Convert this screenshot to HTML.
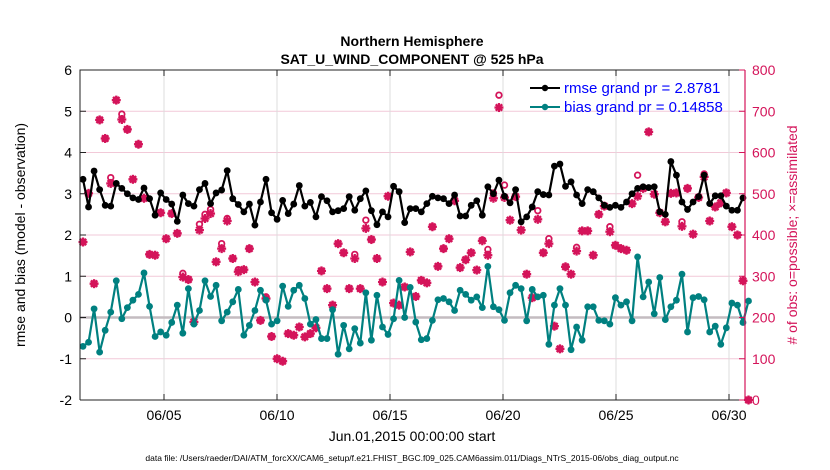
<!DOCTYPE html>
<html><head><meta charset="utf-8"><style>
body{margin:0;background:#fff;}
svg{display:block;font-family:"Liberation Sans",Arial,sans-serif;}
</style></head><body>
<svg id="chart" width="830" height="470" viewBox="0 0 830 470" xmlns="http://www.w3.org/2000/svg">
<rect x="0" y="0" width="830" height="470" fill="#fff"/>
<g id="grid"></g>
<g id="marks"></g>
<g id="axes"></g>
<text x="412" y="46" text-anchor="middle" font-size="14" font-weight="bold">Northern Hemisphere</text>
<text x="412" y="64" text-anchor="middle" font-size="14" font-weight="bold">SAT_U_WIND_COMPONENT @ 525 hPa</text>
<text x="412" y="441" text-anchor="middle" font-size="14">Jun.01,2015 00:00:00 start</text>
<text x="412" y="461" text-anchor="middle" font-size="8.5">data file: /Users/raeder/DAI/ATM_forcXX/CAM6_setup/f.e21.FHIST_BGC.f09_025.CAM6assim.011/Diags_NTrS_2015-06/obs_diag_output.nc</text>
<text transform="translate(25,235) rotate(-90)" text-anchor="middle" font-size="14">rmse and bias (model - observation)</text>
<text transform="translate(797,235) rotate(-90)" text-anchor="middle" font-size="14" fill="#d4145a"># of obs: o=possible; &#215;=assimilated</text>
<g>
<line x1="530" y1="88" x2="560" y2="88" stroke="#000" stroke-width="2"/>
<circle cx="545" cy="88" r="3.2" fill="#000"/>
<text x="564" y="93" font-size="15" fill="#0000ff">rmse grand pr = 2.8781</text>
<line x1="530" y1="107" x2="560" y2="107" stroke="#008080" stroke-width="2"/>
<circle cx="545" cy="107" r="3.2" fill="#008080"/>
<text x="564" y="112" font-size="15" fill="#0000ff">bias grand pr = 0.14858</text>
</g>
</svg>
<script>
const rmse=[3.35,2.68,3.55,3.1,2.72,2.7,3.25,3.13,3.0,2.9,2.86,3.14,2.88,2.48,3.02,2.86,2.75,2.33,2.97,2.76,2.7,3.1,3.25,2.76,3.02,3.09,3.56,2.88,2.74,2.56,
2.75,2.24,2.8,3.35,2.54,2.38,2.84,2.52,2.75,3.2,2.7,2.79,2.44,2.93,2.83,2.56,2.59,2.64,2.93,2.6,2.88,3.07,2.59,2.25,2.56,2.44,3.18,3.05,2.3,2.64,
2.64,2.56,2.76,2.94,2.9,2.88,2.76,2.97,2.46,2.46,2.72,2.83,2.48,3.17,3.0,3.33,2.94,2.78,3.1,2.32,2.44,2.68,3.05,2.98,2.97,3.67,3.72,3.18,3.29,2.97,
2.76,3.1,3.05,2.9,2.72,2.67,2.72,2.67,2.8,3.0,3.13,3.17,3.15,3.17,2.56,2.5,3.78,3.45,2.8,2.62,2.8,2.93,3.45,2.76,2.95,2.95,2.7,2.6,2.6,2.9];
const bias=[-0.7,-0.6,0.21,-0.84,-0.31,0.13,0.89,-0.03,0.24,0.42,0.56,1.08,0.27,-0.46,-0.35,-0.43,-0.12,0.3,-0.38,0.7,-0.16,0.17,0.89,0.51,0.78,-0.08,0.13,0.38,0.68,-0.43,
-0.19,0.17,0.66,0.42,-0.16,-0.08,0.76,0.27,0.66,0.78,0.46,-0.16,-0.05,-0.51,-0.51,0.19,-0.89,-0.19,-0.76,-0.27,-0.62,0.6,-0.55,0.54,-0.23,-0.41,-0.03,0.9,0.0,0.73,
-0.11,-0.54,-0.51,-0.07,0.43,0.46,0.38,0.17,0.66,0.56,0.42,0.5,0.24,1.24,0.26,0.19,-0.07,0.6,0.78,0.7,-0.08,0.68,0.5,0.54,-0.65,0.3,0.7,0.3,-0.78,-0.23,
-0.55,0.26,0.26,-0.07,-0.08,-0.16,0.48,0.3,0.38,-0.08,1.47,0.5,0.86,0.09,0.97,-0.05,0.26,0.42,1.05,-0.35,0.48,0.51,0.43,-0.35,-0.21,-0.65,-0.25,0.35,0.3,-0.12,0.4];
const nAssim=[383,501,282,679,634,525,727,680,656,535,620,489,353,351,454,391,452,404,298,292,189,412,440,452,335,367,434,343,311,316,
367,286,193,246,154,100,94,161,157,177,153,161,175,313,270,230,379,357,270,343,270,416,389,343,286,494,235,230,274,359,
251,290,284,420,324,367,391,483,321,340,357,315,386,351,489,709,491,436,493,412,305,248,438,357,379,179,124,323,305,361,
410,410,351,450,470,408,375,367,363,476,494,513,650,499,454,432,501,502,421,513,402,491,541,434,468,478,502,420,400,289,0];
const nPoss=[383,501,282,679,634,539,727,693,656,535,620,489,353,351,454,391,452,404,307,292,189,426,450,462,335,379,440,343,316,316,
367,286,193,250,154,100,94,161,157,177,153,161,175,313,270,230,379,357,270,353,270,436,389,343,286,494,235,230,274,359,
251,290,284,420,324,367,391,483,321,340,357,315,388,365,502,739,521,436,493,412,305,248,459,357,391,179,124,323,305,370,
410,410,351,450,470,420,375,367,363,476,545,513,650,499,454,432,501,502,432,513,402,491,548,434,468,478,502,420,400,289,0];
const xTickLabels=["06/05","06/10","06/15","06/20","06/25","06/30"];
const xTickDays=[4,9,14,19,24,29];
const yLeftTicks=[-2,-1,0,1,2,3,4,5,6];
const yRightTicks=[0,100,200,300,400,500,600,700,800];

const NS="http://www.w3.org/2000/svg";
const PL=80,PR=745,PT=70,PB=400;
const PINK="#d4145a",TEAL="#008080";
function xIdx(i){return 83+i*5.546;}
function xDay(d){return 73.6+d*22.6;}
function yL(v){return PB-(v+2)/8*(PB-PT);}
function yR(v){return PB-v/800*(PB-PT);}
function mk(tag,attrs,parent){const e=document.createElementNS(NS,tag);for(const k in attrs)e.setAttribute(k,attrs[k]);parent.appendChild(e);return e;}
const grid=document.getElementById('grid'),marks=document.getElementById('marks'),axes=document.getElementById('axes');

yLeftTicks.forEach(v=>{
  if(v===-2||v===6) return;
  const g=mk('line',{x1:PL,x2:PR,y1:yL(v),y2:yL(v),stroke:'#f2c9d8','stroke-width':1},grid);
  
  
});
xTickDays.forEach(d=>{
  const g=mk('line',{x1:xDay(d),x2:xDay(d),y1:PT,y2:PB,stroke:'#dcdcdc','stroke-width':1},grid);
  
  
});
const z=mk('line',{x1:PL,x2:PR,y1:yL(0),y2:yL(0),stroke:'#c4bcc0','stroke-width':2.5},grid);



nPoss.forEach((v,i)=>{
  const c=mk('circle',{cx:xIdx(i),cy:yR(v),r:2.8,fill:'none',stroke:PINK,'stroke-width':1.8},marks);
  
  
});
nAssim.forEach((v,i)=>{
  const x=xIdx(i),y=yR(v);
  const g=mk('g',{stroke:PINK,'stroke-width':2.3},marks);
  
  
  mk('line',{x1:x-4.5,x2:x+4.5,y1:y,y2:y},g);
  mk('line',{x1:x,x2:x,y1:y-4.5,y2:y+4.5},g);
  mk('line',{x1:x-3.2,x2:x+3.2,y1:y-3.2,y2:y+3.2},g);
  mk('line',{x1:x-3.2,x2:x+3.2,y1:y+3.2,y2:y-3.2},g);
});

function series(arr,color,name){
  const p=mk('polyline',{points:arr.map((v,i)=>xIdx(i)+','+yL(v)).join(' '),fill:'none',stroke:color,'stroke-width':2.2,'stroke-linejoin':'round'},marks);
  
  
  arr.forEach((v,i)=>{
    const c=mk('circle',{cx:xIdx(i),cy:yL(v),r:3.4,fill:color},marks);
    
    
  });
}
series(rmse,'#000','rmse');
series(bias,TEAL,'bias');

const fr=mk('path',{d:`M${PL},${PB} V${PT} H${PR}`,fill:'none',stroke:'#222','stroke-width':1},axes);


const xb=mk('line',{x1:PL,x2:PR,y1:PB,y2:PB,stroke:'#222','stroke-width':1},axes);


const ra=mk('line',{x1:PR,x2:PR,y1:PT,y2:PB,stroke:PINK,'stroke-width':1.2},axes);



yLeftTicks.forEach(v=>{
  mk('line',{x1:PL,x2:PL+6,y1:yL(v),y2:yL(v),stroke:'#222'},axes);
  const t=mk('text',{x:PL-8,y:yL(v)+5,'text-anchor':'end','font-size':14},axes);
  t.textContent=v;
  
  
});
yRightTicks.forEach(v=>{
  mk('line',{x1:PR-6,x2:PR,y1:yR(v),y2:yR(v),stroke:PINK},axes);
  const t=mk('text',{x:PR+7,y:yR(v)+5,'font-size':14,fill:PINK},axes);
  t.textContent=v;
  
  
});
xTickDays.forEach((d,i)=>{
  const x=xDay(d);
  mk('line',{x1:x,x2:x,y1:PB,y2:PB-6,stroke:'#222'},axes);
  mk('line',{x1:x,x2:x,y1:PT,y2:PT+6,stroke:'#222'},axes);
  const t=mk('text',{x:x,y:PB+20,'text-anchor':'middle','font-size':14},axes);
  t.textContent=xTickLabels[i];
  
  
});
</script>
</body></html>
